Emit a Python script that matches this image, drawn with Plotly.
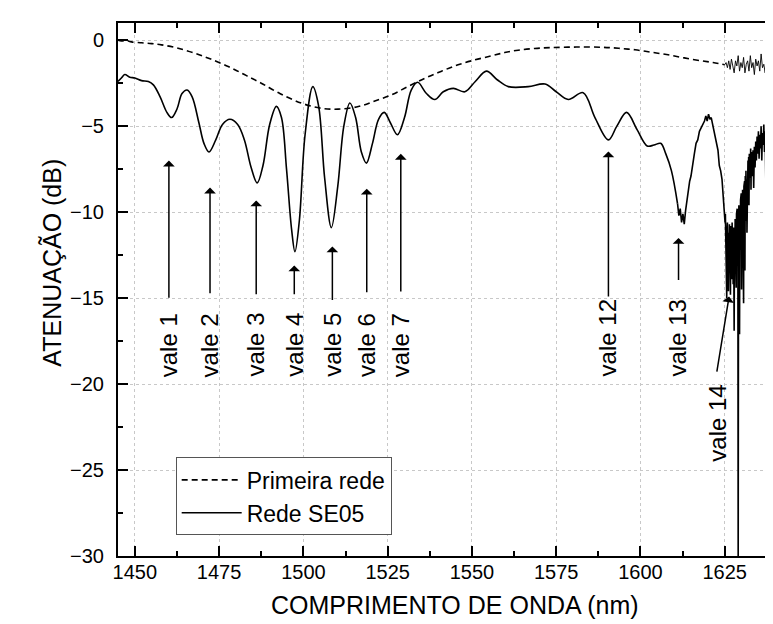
import plotly.graph_objects as go

# Rede SE05 - smooth part (wavelength nm, attenuation dB)
se05_x = [1445.0, 1446.0, 1447.0, 1448.5, 1450.0, 1452.0, 1454.0, 1455.5, 1457.5, 1459.5,
          1460.9, 1462.5, 1464.0, 1465.5, 1467.0, 1469.0, 1470.5, 1472.0, 1474.0, 1476.0,
          1478.2, 1480.5, 1482.5, 1484.5, 1486.3, 1488.0, 1490.0, 1492.0, 1493.5, 1495.0,
          1496.5, 1497.5, 1498.8, 1500.5, 1502.8, 1504.5, 1506.3, 1508.3, 1510.2, 1512.0,
          1513.8, 1515.5, 1517.2, 1518.7, 1520.5, 1522.3, 1524.0, 1525.8, 1527.9, 1530.0,
          1532.0, 1533.9, 1536.5, 1539.0, 1541.5, 1544.5, 1547.9, 1551.0, 1554.3, 1557.5,
          1560.8, 1566.7, 1571.7, 1575.0, 1578.6, 1583.0, 1586.5, 1590.5, 1593.0, 1595.9,
          1599.0, 1602.0, 1604.0, 1606.0, 1607.5, 1609.2, 1611.0]
se05_y = [-2.4, -2.2, -2.0, -2.15, -2.2, -2.35, -2.4, -2.6, -3.3, -4.2,
          -4.5, -4.0, -3.1, -2.9, -3.3, -4.8, -6.0, -6.5, -5.8, -4.9,
          -4.6, -4.9, -5.8, -7.4, -8.3, -7.3, -4.9, -3.85, -4.5, -7.5,
          -11.0, -12.3, -10.5, -5.5, -2.7, -3.8, -8.0, -10.9, -8.5, -5.0,
          -3.65, -4.5, -6.5, -7.15, -6.0, -4.6, -4.2, -4.8, -5.5, -4.5,
          -2.9, -2.45, -3.1, -3.45, -3.0, -2.8, -3.0, -2.4, -1.8, -2.3,
          -2.7, -2.7, -2.55, -3.0, -3.45, -3.05, -4.5, -5.8, -5.0, -4.2,
          -5.2, -6.15, -6.1, -6.0, -6.6, -7.6, -9.5]

# Rede SE05 - noisy tail
se05n_x = [1611.0, 1611.4, 1611.8, 1612.2, 1612.6, 1613.0, 1613.4, 1613.8, 1614.2, 1614.6,
           1615.0, 1615.5, 1616.0, 1616.5, 1617.0, 1617.5, 1618.0, 1618.5, 1619.0, 1619.4,
           1619.8, 1620.2, 1620.6, 1621.0, 1621.4, 1621.8, 1622.2, 1622.6, 1623.0, 1623.4,
           1623.8, 1624.2, 1624.6,
           1625.0, 1625.1, 1625.2, 1625.3, 1625.4, 1625.5, 1625.6, 1625.7, 1625.8, 1625.9,
           1626.0, 1626.1, 1626.2, 1626.3, 1626.4, 1626.5, 1626.6, 1626.7, 1626.8, 1626.9,
           1627.0, 1627.1, 1627.2, 1627.3, 1627.4, 1627.5, 1627.6, 1627.7, 1627.8, 1627.9,
           1628.0, 1628.1, 1628.2, 1628.3, 1628.4, 1628.5, 1628.6, 1628.7, 1628.8, 1628.9,
           1629.0, 1629.1, 1629.2, 1629.3, 1629.4, 1629.5, 1629.6, 1629.7, 1629.8, 1629.9,
           1630.0, 1630.1, 1630.2, 1630.3, 1630.4, 1630.5, 1630.6, 1630.7, 1630.8, 1630.9,
           1631.0, 1631.1, 1631.2, 1631.3, 1631.4, 1631.5, 1631.6, 1631.7, 1631.8, 1631.9,
           1632.0, 1632.1, 1632.2, 1632.3, 1632.4, 1632.5, 1632.6, 1632.7, 1632.8, 1632.9,
           1633.0,
           1633.2, 1633.4, 1633.6, 1633.8, 1634.0, 1634.2, 1634.4, 1634.6, 1634.8, 1635.0,
           1635.2, 1635.4, 1635.6, 1635.8, 1636.0, 1636.2, 1636.4, 1636.6, 1636.8, 1637.0,
           1637.2, 1637.4, 1637.6, 1637.8, 1638.0, 1638.2, 1638.4, 1638.6, 1638.8, 1639.0,
           1639.2, 1639.4, 1639.6, 1639.8, 1640.0, 1640.2, 1640.4, 1640.6, 1640.8, 1641.0,
           1641.2, 1641.4, 1641.7]
se05n_y = [-9.5, -10.2, -9.8, -10.6, -10.1, -10.7, -9.9, -9.3, -8.9, -8.2,
           -7.9, -7.1, -6.6, -6.0, -5.8, -5.3, -5.1, -4.9, -4.7, -4.4,
           -4.7, -4.3, -4.6, -4.5, -4.9, -5.3, -5.6, -6.2, -6.4, -7.3,
           -7.6, -8.1, -9.2,
           -9.9, -10.6, -10.1, -11.8, -10.4, -13.2, -15.0, -11.0, -10.6, -12.8,
           -11.2, -14.6, -10.9, -12.2, -10.7, -13.5, -11.3, -14.8, -10.8, -12.4,
           -11.0, -13.9, -10.6, -12.9, -11.5, -14.2, -10.9, -13.1, -16.9, -11.2,
           -12.7, -10.4, -13.6, -11.0, -14.4, -10.1, -12.5, -9.8, -13.0, -10.6,
           -31.0, -11.4, -9.6, -12.8, -17.1, -10.2, -12.2, -9.3, -11.9, -8.9,
           -14.5, -9.5, -11.6, -8.7, -12.9, -9.1, -15.3, -8.5, -11.0, -8.2,
           -13.4, -7.9, -10.5, -7.6, -9.8, -8.1, -11.2, -7.4, -9.3, -7.0,
           -8.8, -6.8, -9.6, -6.6, -8.4, -6.9, -8.0, -6.3, -8.7, -6.5,
           -7.7,
           -7.9, -6.4, -8.6, -6.2, -7.4, -5.9, -7.0, -5.6, -6.6, -5.3,
           -6.9, -5.5, -6.3, -5.0, -7.0, -5.4, -6.1, -4.9, -6.5, -5.3,
           -8.2, -5.1, -6.0, -4.6, -6.8, -5.0, -5.9, -4.6, -7.4, -5.2,
           -6.0, -4.5, -9.1, -5.3, -11.5, -5.6, -4.6, -6.4, -4.9, -7.0,
           -5.2, -5.8, -5.0]

# Primeira rede - smooth part
prim_x = [1445.0, 1446.0, 1447.5, 1449.0, 1452.0, 1455.0, 1457.9, 1462.5, 1467.8, 1472.5,
          1477.7, 1482.5, 1487.5, 1493.0, 1499.4, 1505.0, 1510.3, 1516.3, 1521.0, 1526.1,
          1531.0, 1536.1, 1541.0, 1545.9, 1550.8, 1555.8, 1559.7, 1563.7, 1568.6, 1573.6,
          1581.0, 1588.5, 1593.5, 1598.4, 1603.3, 1608.2, 1613.0, 1618.1, 1621.5, 1625.0]
prim_y = [0.0, -0.05, -0.02, -0.1, -0.15, -0.2, -0.27, -0.45, -0.76, -1.1,
          -1.53, -2.0, -2.5, -3.1, -3.66, -3.95, -4.01, -3.86, -3.55, -3.18,
          -2.7, -2.21, -1.8, -1.43, -1.15, -0.91, -0.72, -0.58, -0.48, -0.43,
          -0.4, -0.41, -0.47, -0.56, -0.7, -0.85, -1.03, -1.2, -1.3, -1.43]

# Primeira rede - noisy tail
primn_x = [1625.0, 1625.4, 1625.8, 1626.2, 1626.6, 1627.0, 1627.4, 1627.8, 1628.2, 1628.6,
           1629.0, 1629.4, 1629.8, 1630.2, 1630.6, 1631.0, 1631.4, 1631.8, 1632.2, 1632.6,
           1633.0, 1633.4, 1633.8, 1634.2, 1634.6, 1635.0, 1635.4, 1635.8, 1636.2, 1636.6,
           1637.0, 1637.4, 1637.8, 1638.2, 1638.6, 1639.0, 1639.4, 1639.8, 1640.2, 1640.6,
           1641.0, 1641.4, 1641.7]
primn_y = [-1.43, -1.3, -1.6, -1.2, -1.7, -1.1, -1.5, -1.9, -1.2, -1.5,
           -0.9, -1.8, -1.3, -1.6, -1.0, -1.9, -1.4, -1.2, -1.8, -0.9,
           -1.6, -1.3, -2.0, -1.1, -1.5, -1.2, -1.8, -0.8, -1.6, -1.4,
           -1.9, -1.0, -1.5, -1.7, -1.1, -2.0, -1.3, -1.6, -0.9, -1.7,
           -1.2, -1.5, -1.3]

# valley labels: arrow x, head y, tail y
vale_labels = ["vale 1", "vale 2", "vale 3", "vale 4", "vale 5", "vale 6", "vale 7",
               "vale 12", "vale 13"]
vale_x = [1460.1, 1472.3, 1486.0, 1497.3, 1508.6, 1518.8, 1528.9, 1590.5, 1611.3]
vale_head = [-7.0, -8.57, -9.32, -13.1, -12.0, -8.64, -6.61, -6.47, -11.5]
vale_tail = [-15.06, -14.8, -14.87, -14.87, -15.2, -14.75, -14.7, -15.0, -14.03]

FONT = "Liberation Sans, Arial, sans-serif"

fig = go.Figure()
fig.add_trace(go.Scatter(x=prim_x, y=prim_y, mode="lines", name="Primeira rede",
                         line=dict(color="black", width=1.6, dash="6px,4px", shape="spline"),
                         legendgroup="p"))
fig.add_trace(go.Scatter(x=primn_x, y=primn_y, mode="lines", showlegend=False,
                         line=dict(color="black", width=0.9), legendgroup="p"))
fig.add_trace(go.Scatter(x=se05_x, y=se05_y, mode="lines", name="Rede SE05",
                         line=dict(color="black", width=1.6, shape="spline"),
                         legendgroup="s"))
fig.add_trace(go.Scatter(x=se05n_x, y=se05n_y, mode="lines", showlegend=False,
                         line=dict(color="black", width=1.6), legendgroup="s"))

ann = []
for lab, xv, yh, yt in zip(vale_labels, vale_x, vale_head, vale_tail):
    ann.append(dict(x=xv, y=yh, ax=xv, ay=yt, xref="x", yref="y", axref="x", ayref="y",
                    text="", showarrow=True, arrowhead=1, arrowsize=1.3, arrowwidth=1.5,
                    arrowcolor="black"))
    ycen = -17.73 if len(lab) == 6 else -17.3
    ann.append(dict(x=xv - 0.2, y=ycen, xref="x", yref="y", text=lab, showarrow=False,
                    textangle=-90, font=dict(size=24, family=FONT, color="black")))
# vale 14 with slanted arrow
ann.append(dict(x=1626.3, y=-14.9, ax=1622.6, ay=-19.36, xref="x", yref="y",
                axref="x", ayref="y", text="", showarrow=True, arrowhead=1,
                arrowsize=1.3, arrowwidth=1.5, arrowcolor="black"))
ann.append(dict(x=1622.6, y=-22.27, xref="x", yref="y", text="vale 14", showarrow=False,
                textangle=-90, font=dict(size=24, family=FONT, color="black")))
# axis titles
ann.append(dict(x=0.508, y=-0.122, xref="paper", yref="paper", text="COMPRIMENTO DE ONDA (nm)",
                showarrow=False, font=dict(size=25, family=FONT, color="black")))
ann.append(dict(x=-0.124, y=0.55, xref="paper", yref="paper", text="ATENUAÇÃO (dB)",
                showarrow=False, textangle=-90, font=dict(size=25, family=FONT, color="black")))

fig.update_layout(
    width=773, height=624,
    margin=dict(l=110, r=0, t=15, b=76, autoexpand=False),
    plot_bgcolor="white", paper_bgcolor="white",
    font=dict(family=FONT, color="black", size=20),
    annotations=ann,
    legend=dict(x=0.087, y=0.185, xanchor="left", yanchor="top",
                bordercolor="#555555", borderwidth=1, bgcolor="white",
                font=dict(size=23, family=FONT), tracegroupgap=0, itemwidth=60),
)
fig.update_xaxes(range=[1445.0, 1641.7], tickvals=[1450, 1475, 1500, 1525, 1550, 1575, 1600, 1625],
                 ticks="inside", ticklen=10, tickwidth=1.5, tickcolor="black",
                 showline=True, linecolor="black", linewidth=2, mirror="ticks",
                 showgrid=True, gridcolor="#c8c8c8", griddash="dot", gridwidth=1,
                 minor=dict(dtick=12.5, tick0=1450, ticks="inside", ticklen=5, tickcolor="black",
                            tickwidth=1.5, showgrid=False),
                 zeroline=False, ticklabelstandoff=-3, tickfont=dict(size=20), automargin=False)
fig.update_yaxes(range=[-30, 1.0], tickvals=[0, -5, -10, -15, -20, -25, -30],
                 ticks="inside", ticklen=10, tickwidth=1.5, tickcolor="black",
                 showline=True, linecolor="black", linewidth=2,
                 showgrid=True, gridcolor="#c8c8c8", griddash="dot", gridwidth=1,
                 minor=dict(dtick=2.5, tick0=0, ticks="inside", ticklen=5, tickcolor="black",
                            tickwidth=1.5, showgrid=False),
                 zeroline=False, ticklabelstandoff=8, tickfont=dict(size=20), automargin=False)

fig.write_html("out.html")
